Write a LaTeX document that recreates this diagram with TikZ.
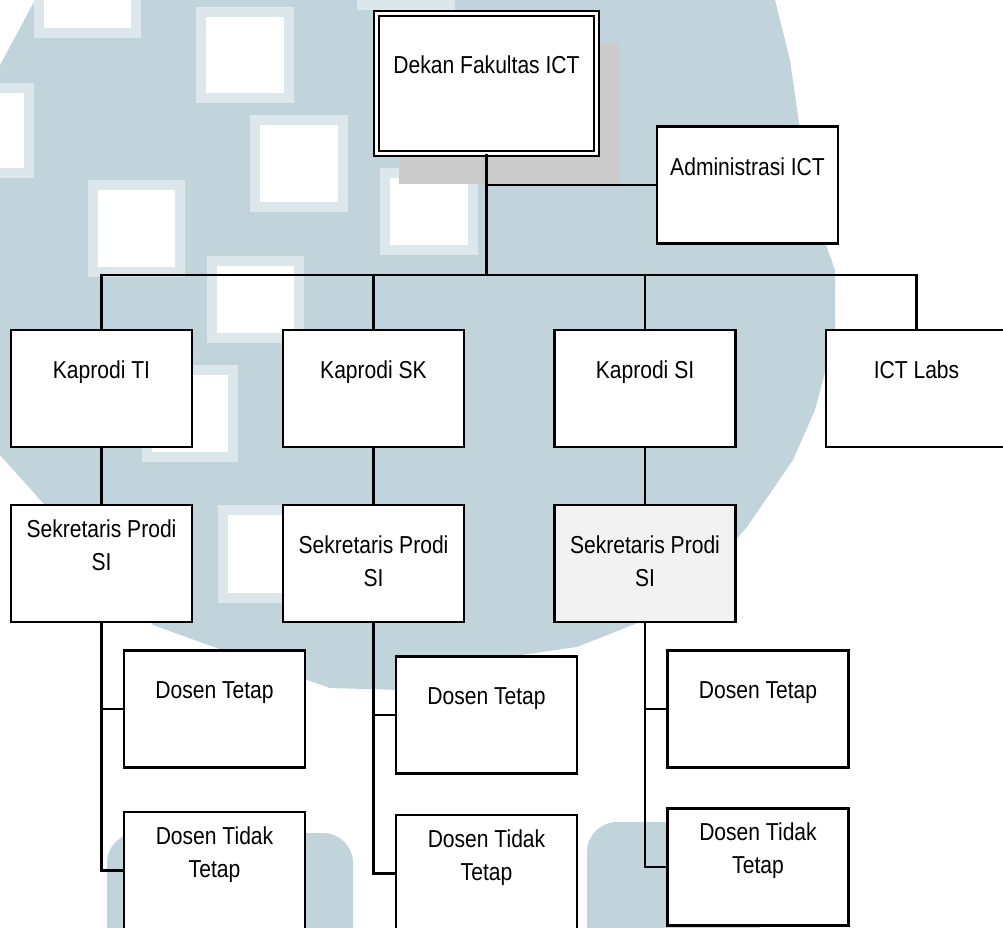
\documentclass[tikz,border=0pt]{standalone}
\usepackage{fontspec}
\setmainfont{Liberation Sans}[FakeStretch=0.86]
\usetikzlibrary{positioning,shadows}

\definecolor{wmblue}{HTML}{C2D4DB}
\definecolor{wmedge}{HTML}{DCE7EB}
\definecolor{shadegray}{HTML}{CBCBCB}
\definecolor{secfill}{HTML}{F2F2F2}

\newcommand{\orgfont}{\fontsize{24.5}{33}\selectfont}
\newcommand{\orgstrut}{\rule[-4.5pt]{0pt}{28pt}}
\newcommand{\blankline}{\\\orgstrut}

\begin{document}
\begin{tikzpicture}[
  x=1pt, y=-1pt,
  unit/.style={draw, line width=2.2pt, fill=white, minimum width=181pt,
    minimum height=117pt, inner sep=0pt, align=center, font=\orgfont,
    execute at begin node=\orgstrut},
  link/.style={line width=2.1pt},
  wmsquare/.style={fill=white, draw=wmedge, line width=10pt}
]
  \useasboundingbox (0,0) rectangle (1003,927);
  \clip (0,0) rectangle (1003,927);

  % Watermark in the back
  \fill[wmblue] (0,65) -- (35,0) -- (775,0) -- (790,60) -- (810,200) -- (835,270)
    -- (835,335) -- (815,410) -- (793,460) -- (747,527) -- (700,580) -- (640,622)
    -- (577,647) -- (500,658) -- (400,690) -- (330,688) -- (200,642) -- (153,625)
    -- (90,560) -- (43,503) -- (0,455) -- cycle;
  \fill[wmblue, rounded corners=30pt] (107,833) rectangle (353,960);
  \fill[wmblue, rounded corners=30pt] (587,822) rectangle (760,960);
  \foreach \xa/\ya/\xb/\yb in {39/-60/136/33, 201/12/289/98, 255/120/343/207,
      93/185/180/272, 212/261/299/338, -60/88/29/173, 385/173/473/250,
      147/370/233/457, 223/510/320/598, 362/-80/450/5}
    \draw[wmsquare] (\xa,\ya) rectangle (\xb,\yb);

  % Dekan with shadow
  \node[unit, double, double distance=3.2pt, line width=1.7pt,
    minimum width=220pt, minimum height=140pt,
    drop shadow={shadow xshift=22pt, shadow yshift=-30pt, fill=shadegray, opacity=1}]
    (dekan) at (486.5,83.5) {Dekan Fakultas ICT\blankline};
  \node[unit] (adm) at (747.5,185) {Administrasi ICT\blankline};

  % Kaprodi row
  \node[unit] (kti)  at (101.5,388.5) {Kaprodi TI\blankline};
  \node[unit] (ksk)  at (373.5,388.5) {Kaprodi SK\blankline};
  \node[unit] (ksi)  at (645,388.5)   {Kaprodi SI\blankline};
  \node[unit] (labs) at (916.5,388.5) {ICT Labs\blankline};

  % Sekretaris row
  \node[unit] (sti) at (101.5,563.5) {Sekretaris Prodi\\SI\blankline};
  \node[unit] (ssk) at (373.5,563.5) {Sekretaris Prodi\\SI};
  \node[unit, fill=secfill] (ssi) at (645,563.5) {Sekretaris Prodi\\SI};

  % Dosen
  \node[unit] (dtti) at (214.5,709) {Dosen Tetap\blankline};
  \node[unit] (dtsk) at (486.5,715) {Dosen Tetap\blankline};
  \node[unit] (dtsi) at (758,709)   {Dosen Tetap\blankline};
  \node[unit] (dxti) at (214.5,870.5) {Dosen Tidak\\Tetap\blankline};
  \node[unit] (dxsk) at (486.5,873.5) {Dosen Tidak\\Tetap\blankline};
  \node[unit] (dxsi) at (758,867)     {Dosen Tidak\\Tetap\blankline};

  % Lines
  \coordinate (bus) at (486.5,275);
  \draw[link] ([yshift=-3.3pt]dekan.south) -- (bus);
  \draw[link] (dekan.south) |- (adm.west);
  \foreach \k in {kti,ksk,ksi,labs}
    \draw[link] (bus) -| (\k.north);
  \draw[link] (kti) -- (sti);
  \draw[link] (ksk) -- (ssk);
  \draw[link] (ksi) -- (ssi);
  \draw[link] (sti.south) |- (dtti.west);
  \draw[link] (sti.south) |- (dxti.west);
  \draw[link] (ssk.south) |- (dtsk.west);
  \draw[link] (ssk.south) |- (dxsk.west);
  \draw[link] (ssi.south) |- (dtsi.west);
  \draw[link] (ssi.south) |- (dxsi.west);
\end{tikzpicture}
\end{document}
